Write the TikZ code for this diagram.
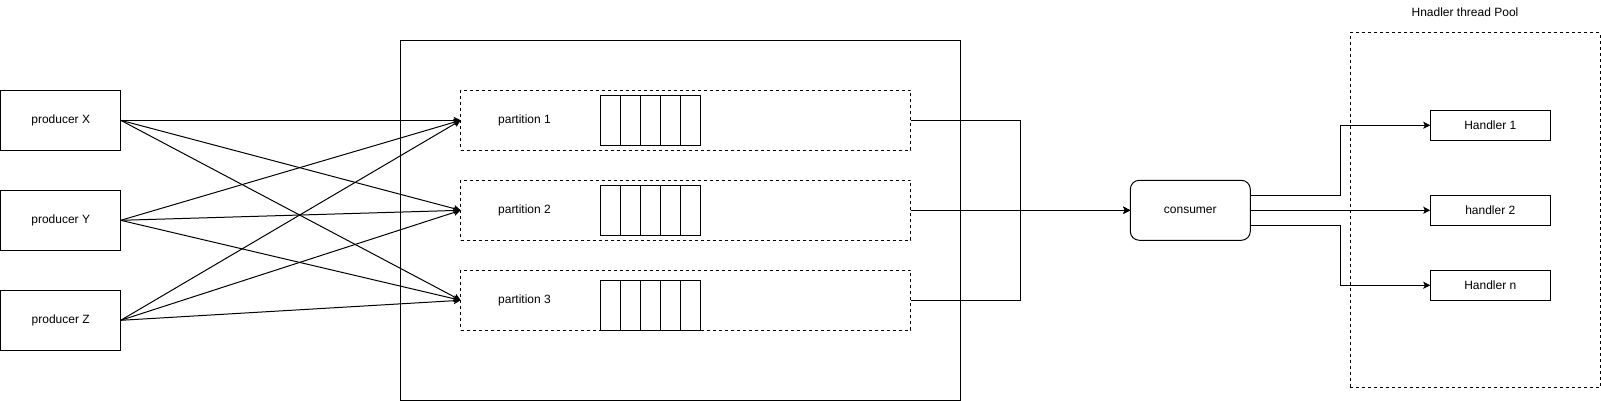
\documentclass[tikz,border=0pt]{standalone}
\usepackage{fontspec}
\setmainfont{Liberation Sans}
\usetikzlibrary{arrows.meta}
\begin{document}
\begin{tikzpicture}[x=1pt,y=-1pt, line width=1pt,
  font=\fontsize{12}{14}\selectfont,
  box/.style={draw, rectangle, inner sep=0pt, outer sep=0pt, align=center},
  dbox/.style={box, dash pattern=on 3pt off 3pt},
  arr/.style={-{Stealth[length=7pt,width=7pt,inset=1.5pt]}}]
\useasboundingbox (0,0) rectangle (1601,401);

% containers
\node[box, minimum width=560pt, minimum height=360pt] (broker) at (680.3,220.3) {};
\node[dbox, minimum width=250pt, minimum height=355pt] (pool) at (1475.3,210.2) {};
\node (poollabel) at (1465,12) {Hnadler thread Pool};

% producers
\node[box, minimum width=120pt, minimum height=60pt] (px) at (60.7,120.3) {producer X};
\node[box, minimum width=120pt, minimum height=60pt] (py) at (60.7,220.3) {producer Y};
\node[box, minimum width=120pt, minimum height=60pt] (pz) at (60.7,320.3) {producer Z};

% partitions
\node[dbox, minimum width=450pt, minimum height=60pt] (p1) at (685.7,120.3) {};
\node[dbox, minimum width=450pt, minimum height=60pt] (p2) at (685.7,210.3) {};
\node[dbox, minimum width=450pt, minimum height=60pt] (p3) at (685.7,300.3) {};
\node (l1) at (524.5,120.3) {partition 1};
\node (l2) at (524.5,210.3) {partition 2};
\node (l3) at (524.5,300.3) {partition 3};

% queues
\node[box, minimum width=100pt, minimum height=50pt] (q1) at (650.3,120.3) {};
\node[box, minimum width=100pt, minimum height=50pt] (q2) at (650.3,210.3) {};
\node[box, minimum width=100pt, minimum height=50pt] (q3) at (650.3,305.3) {};
\foreach \q in {q1,q2,q3}{
  \foreach \d in {20,40,60,80}{
    \draw ([xshift=\d pt]\q.north west) -- ([xshift=\d pt]\q.south west);
  }
}

% consumer and handlers
\node[box, rounded corners=9pt, minimum width=120pt, minimum height=60pt] (cons) at (1190.3,210.3) {consumer};
\node[box, minimum width=120pt, minimum height=30pt] (h1) at (1490.3,125.3) {Handler 1};
\node[box, minimum width=120pt, minimum height=30pt] (h2) at (1490.3,210.3) {handler 2};
\node[box, minimum width=120pt, minimum height=30pt] (hn) at (1490.3,285.3) {Handler n};

% producer -> partition
\foreach \s in {px,py,pz}{
  \foreach \t in {p1,p2,p3}{
    \draw[arr] (\s.east) -- (\t.west);
  }
}

% partitions -> consumer
\coordinate (bus) at (1020.3,210.3);
\draw[arr] (p1.east) -| (bus) -- (cons.west);
\draw[arr] (p3.east) -| (bus) -- (cons.west);
\draw[arr] (p2.east) -- (cons.west);

% consumer -> handlers
\draw[arr] ([yshift=15pt]cons.east) -- ++(90,0) |- (h1.west);
\draw[arr] (cons.east) -- (h2.west);
\draw[arr] ([yshift=-15pt]cons.east) -- ++(90,0) |- (hn.west);
\end{tikzpicture}
\end{document}
